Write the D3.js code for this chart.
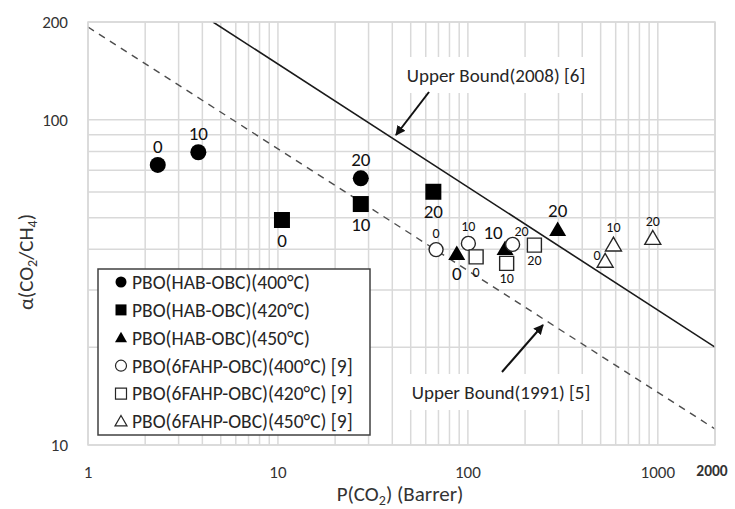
<!DOCTYPE html>
<html>
<head>
<meta charset="UTF-8">
<script src="https://cdnjs.cloudflare.com/ajax/libs/d3/7.8.5/d3.min.js"></script>
<style>
  body { margin: 0; background: #fff; }
  svg { font-family: Carlito, Calibri, Lato, sans-serif; }
</style>
</head>
<body>
<svg id="chart" width="735" height="509"></svg>
<script>
// point labels (gas-phase treatment time)
const pointLabels = ['0', '10', '20'];

// P(CO2) in Barrer, alpha(CO2/CH4)
const hab400P = [2.33, 3.81, 27.3];
const hab400A = [72.7, 79.5, 66.1];
const hab420P = [10.5, 27.3, 65.8];
const hab420A = [49.2, 55.1, 60.1];
const hab450P = [87.4, 157, 297];
const hab450A = [38.9, 40.3, 46.1];
const fahp400P = [68, 100.6, 172];
const fahp400A = [39.9, 41.7, 41.4];
const fahp420P = [110.5, 160, 224];
const fahp420A = [37.9, 36.2, 41.2];
const fahp450P = [528, 584, 941];
const fahp450A = [36.9, 41.4, 43.4];

// upper bound lines, end points
const bound2008P = [4.55, 2000];
const bound2008A = [200, 20];
const bound1991P = [1, 2000];
const bound1991A = [193, 11.2];

const xTicks = [1, 10, 100, 1000];
const yTicks = [10, 100, 200];

const legendNames = [
  'PBO(HAB-OBC)(400°C)',
  'PBO(HAB-OBC)(420°C)',
  'PBO(HAB-OBC)(450°C)',
  'PBO(6FAHP-OBC)(400°C) [9]',
  'PBO(6FAHP-OBC)(420°C) [9]',
  'PBO(6FAHP-OBC)(450°C) [9]'
];

const series = [
  { p: hab400P, a: hab400A, shape: 'circle', filled: true, pos: ['t', 't', 't'] },
  { p: hab420P, a: hab420A, shape: 'square', filled: true, pos: ['b', 'b', 'b'] },
  { p: hab450P, a: hab450A, shape: 'triangle', filled: true, pos: ['b', 'tl', 't'] },
  { p: fahp400P, a: fahp400A, shape: 'circle', filled: false, pos: ['t', 't', 'tr'] },
  { p: fahp420P, a: fahp420A, shape: 'square', filled: false, pos: ['b', 'b', 'b'] },
  { p: fahp450P, a: fahp450A, shape: 'triangle', filled: false, pos: ['l', 't', 't'] }
];

const margin = { left: 88, top: 22, right: 20, bottom: 64 };
const W = 735, H = 509;
const svg = d3.select('#chart');

const x = d3.scaleLog().domain([1, 2000]).range([margin.left, W - margin.right]);
const y = d3.scaleLog().domain([10, 200]).range([H - margin.bottom, margin.top]);

const grid = '#d9d9d9';
const ink = '#262626';

// gridlines
const xGrid = [];
[1, 10, 100, 1000].forEach(d => { for (let k = 1; k <= 9; k++) if (d * k <= 2000) xGrid.push(d * k); });
xGrid.push(2000);
const yGrid = [];
for (let k = 1; k <= 10; k++) yGrid.push(k * 10);
yGrid.push(200);

const g = svg.append('g');
g.selectAll('.vx').data(xGrid).enter().append('line')
  .attr('x1', d => x(d)).attr('x2', d => x(d))
  .attr('y1', y(10)).attr('y2', y(200))
  .attr('stroke', grid).attr('stroke-width', 1.5);
g.selectAll('.hy').data(yGrid).enter().append('line')
  .attr('x1', x(1)).attr('x2', x(2000))
  .attr('y1', d => y(d)).attr('y2', d => y(d))
  .attr('stroke', grid).attr('stroke-width', 1.5);

// tick labels
svg.append('g').selectAll('text').data(yTicks).enter().append('text')
  .attr('x', 68).attr('y', d => y(d)).attr('dy', '0.35em')
  .attr('text-anchor', 'end').attr('font-size', 17).attr('fill', '#333')
  .text(d => d);
svg.append('g').selectAll('text').data(xTicks).enter().append('text')
  .attr('x', d => x(d)).attr('y', 472).attr('dy', '0.35em')
  .attr('text-anchor', 'middle').attr('font-size', 17).attr('fill', '#333')
  .text(d => d);
svg.append('text').attr('x', x(2000) - 3).attr('y', 471).attr('dy', '0.35em')
  .attr('text-anchor', 'middle').attr('font-size', 15.5).attr('font-weight', 'bold').attr('fill', '#333')
  .text('2000');

// axis titles
const xt = svg.append('text').attr('x', 400).attr('y', 494).attr('dy', '0.35em')
  .attr('text-anchor', 'middle').attr('font-size', 21).attr('fill', '#333');
xt.append('tspan').text('P(CO');
xt.append('tspan').attr('font-size', 14).attr('dy', 4).text('2');
xt.append('tspan').attr('dy', -4).text(') (Barrer)');

const yt = svg.append('text').attr('transform', 'translate(26,262) rotate(-90)')
  .attr('dy', '0.35em').attr('text-anchor', 'middle').attr('font-size', 21).attr('fill', '#333');
yt.append('tspan').text('α(CO');
yt.append('tspan').attr('font-size', 14).attr('dy', 4).text('2');
yt.append('tspan').attr('dy', -4).text('/CH');
yt.append('tspan').attr('font-size', 14).attr('dy', 4).text('4');
yt.append('tspan').attr('dy', -4).text(')');

// bound lines, clipped to plot
svg.append('clipPath').attr('id', 'plot').append('rect')
  .attr('x', x(1)).attr('y', y(200)).attr('width', x(2000) - x(1)).attr('height', y(10) - y(200));
const line = d3.line().x(d => x(d[0])).y(d => y(d[1]));
svg.append('path').attr('clip-path', 'url(#plot)')
  .attr('d', line(d3.zip(bound2008P, bound2008A)))
  .attr('fill', 'none').attr('stroke', '#1a1a1a').attr('stroke-width', 1.6);
svg.append('path').attr('clip-path', 'url(#plot)')
  .attr('d', line(d3.zip(bound1991P, bound1991A)))
  .attr('fill', 'none').attr('stroke', '#4d4d4d').attr('stroke-width', 1.4)
  .attr('stroke-dasharray', '7,6');

// annotation labels with white boxes and arrows
svg.append('defs').append('marker').attr('id', 'arr')
  .attr('viewBox', '0 0 10 10').attr('refX', 9).attr('refY', 5)
  .attr('markerWidth', 5).attr('markerHeight', 5).attr('orient', 'auto')
  .append('path').attr('d', 'M0,0L10,5L0,10Z').attr('fill', '#111');

function note(txt, cx, cy) {
  svg.append('rect').attr('x', cx - 98).attr('y', cy - 18).attr('width', 196).attr('height', 36).attr('fill', '#fff');
  svg.append('text').attr('x', cx).attr('y', cy).attr('dy', '0.35em')
    .attr('text-anchor', 'middle').attr('font-size', 19).attr('fill', ink).text(txt);
}
note('Upper Bound(2008) [6]', 496, 75);
note('Upper Bound(1991) [5]', 501, 392);
svg.append('line').attr('x1', 429).attr('y1', 92).attr('x2', 396).attr('y2', 135)
  .attr('stroke', '#111').attr('stroke-width', 2).attr('marker-end', 'url(#arr)');
svg.append('line').attr('x1', 502).attr('y1', 372).attr('x2', 543).attr('y2', 325)
  .attr('stroke', '#111').attr('stroke-width', 2).attr('marker-end', 'url(#arr)');

// plot border
svg.append('rect').attr('x', x(1)).attr('y', y(200)).attr('width', x(2000) - x(1)).attr('height', y(10) - y(200))
  .attr('fill', 'none').attr('stroke', grid).attr('stroke-width', 1.5);

// markers
function symPath(shape, dim) {
  if (shape === 'circle') return d3.symbol(d3.symbolCircle, Math.PI * dim * dim / 4)();
  if (shape === 'square') return d3.symbol(d3.symbolSquare, dim * dim)();
  return d3.symbol(d3.symbolTriangle, Math.sqrt(3) / 4 * dim * dim)();
}

const offBig = { t: [0, -19], b: [0, 20], tl: [-12, -16], l: [-10, -6], tr: [9, -13] };
const offSmall = { t: [0, -17], b: [0, 15], tl: [-10, -14], l: [-8, -6], tr: [9, -13] };

series.forEach(s => {
  const dim = s.filled ? (s.shape === 'triangle' ? 17 : 16) : (s.shape === 'triangle' ? 16 : 14);
  const pts = s.p.map((p, i) => ({ p, a: s.a[i], lab: pointLabels[i], pos: s.pos[i] }));
  svg.append('g').selectAll('path').data(pts).enter().append('path')
    .attr('transform', d => `translate(${x(d.p)},${y(d.a) + (s.shape === 'triangle' ? 2 : 0)})`)
    .attr('d', symPath(s.shape, dim))
    .attr('fill', s.filled ? '#000' : '#fff')
    .attr('stroke', s.filled ? 'none' : ink)
    .attr('stroke-width', 1.4);
  const off = s.filled ? offBig : offSmall;
  svg.append('g').selectAll('text').data(pts).enter().append('text')
    .attr('x', d => x(d.p) + off[d.pos][0])
    .attr('y', d => y(d.a) + off[d.pos][1])
    .attr('dy', '0.35em').attr('text-anchor', 'middle')
    .attr('font-size', s.filled ? 19 : 14).attr('fill', '#111')
    .text(d => d.lab);
});

// legend
const lg = svg.append('g');
lg.append('rect').attr('x', 98).attr('y', 269).attr('width', 272).attr('height', 166)
  .attr('fill', '#fff').attr('stroke', '#404040').attr('stroke-width', 1.5);
series.forEach((s, i) => {
  const cy = 282 + i * 27.9;
  lg.append('path').attr('transform', `translate(121,${cy + (s.shape === 'triangle' ? 1 : 0)})`)
    .attr('d', symPath(s.shape, s.shape === 'triangle' ? 12 : 11))
    .attr('fill', s.filled ? '#000' : '#fff')
    .attr('stroke', s.filled ? 'none' : ink).attr('stroke-width', 1.2);
  lg.append('text').attr('x', 132).attr('y', cy).attr('dy', '0.35em')
    .attr('font-size', 19.5).attr('fill', ink).text(legendNames[i]);
});
</script>
</body>
</html>
